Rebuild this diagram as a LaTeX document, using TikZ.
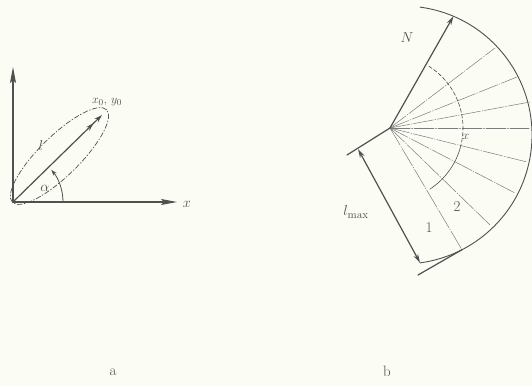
\documentclass[tikz,border=0pt]{standalone}
\usetikzlibrary{arrows.meta,calc}
\begin{document}
\begin{tikzpicture}[x=1pt,y=1pt,line cap=round]
\definecolor{ink}{HTML}{505050}
\definecolor{bg}{HTML}{FBFDF4}
\tikzset{
 axis/.style={draw=ink, line width=1.1pt, -{Stealth[length=16pt,width=6pt,inset=3pt]}},
 heavy/.style={draw=ink, line width=1.2pt},
 ray/.style={draw=ink!75, line width=0.5pt, dash pattern=on 20pt off 1.5pt on 1pt off 1.5pt},
 thinarc/.style={draw=ink, line width=0.6pt},
 lbl/.style={text=ink, inner sep=0pt, font=\fontsize{15}{18}\selectfont},
 smalllbl/.style={text=ink, inner sep=0pt, font=\fontsize{13}{15}\selectfont}
}
\fill[bg] (0,0) rectangle (532,386);
\useasboundingbox (0,0) rectangle (532,386);
% ---------- part a ----------
\coordinate (O) at (13,184);
\coordinate (Ytop) at (13,319);
\coordinate (Xend) at (177,184);
\coordinate (P) at (102,271);
\draw[axis] (O) -- (Ytop);
\draw[axis] (O) -- (Xend);
\node[lbl] (xlab) at (187,182) {$x$};
\draw[heavy, -{Stealth[length=8pt,width=5pt,sep=4pt]Stealth[length=8pt,width=5pt]}] (O) -- (P);
\draw[ink, line width=0.7pt, dash pattern=on 5pt off 2pt on 1pt off 2pt, rotate around={44.5:(59.5,230)}] (59.5,230) ellipse (66 and 20);
\draw[ink, line width=0.8pt, -{Stealth[length=6pt,width=4pt]}] (63,184) arc[start angle=0, end angle=40, radius=50];
\node[lbl] (alab) at (45,198) {$\alpha$};
\node[lbl] (llab) at (41,240) {$l$};
\node[smalllbl] (plab) at (107,284) {$x_0,\, y_0$};
\node[lbl] (a) at (113,14) {a};
% ---------- part b ----------
\coordinate (C) at (390,258);
\coordinate (K) at (403,251);
\coordinate (Ntip) at ($(K)+(67:129)$);
\coordinate (E8) at ($(K)+(-62.8:129)$);
\coordinate (Abot) at ($(K)+(-82.4:129)$);
\coordinate (Atop) at ($(K)+(82.4:129)$);
\coordinate (E1) at (495,338);
\coordinate (E2) at (517,309);
\coordinate (E3) at (530,284);
\coordinate (E4) at (529,258);
\coordinate (E5) at (527,224);
\coordinate (E6) at (515,193);
\coordinate (E7) at (490,161);
\coordinate (B1) at (347,231);
\coordinate (T1) at (418,111);
\coordinate (M1) at (358,237);
% big arc
\draw[thinarc, line width=0.9pt] (Atop) arc[start angle=82.4, end angle=-82.4, radius=129];
% rays
\foreach \e in {E1,E2,E3,E4,E5,E6,E7,E8} \draw[ray] (C) -- (\e);
% dashed arc / solid arc around fan centre
\draw[thinarc, dash pattern=on 4pt off 2pt] ($(C)+(58:73)$) arc[start angle=58, end angle=-14, radius=73];
\draw[thinarc] ($(C)+(-14:73)$) arc[start angle=-14, end angle=-57, radius=73];
% heavy lines
\draw[heavy, -{Stealth[length=9pt,width=5pt]}] (C) -- (Ntip);
\draw[heavy] (C) -- (B1);
\draw[heavy] (T1) -- (E8);
\draw[heavy, {Stealth[length=9pt,width=5pt]}-{Stealth[length=9pt,width=5pt]}] (M1) -- (Abot);
% labels
\node[lbl] (Nlab) at (407,348) {$N$};
\node[smalllbl] (xl) at (466,249) {$x$};
\node[lbl] (one) at (429,158) {1};
\node[lbl] (two) at (457,179) {2};
\node[lbl] (lmax) at (356,174) {$l_{\mathrm{max}}$};
\node[lbl] (b) at (387,15) {b};
\end{tikzpicture}
\end{document}
